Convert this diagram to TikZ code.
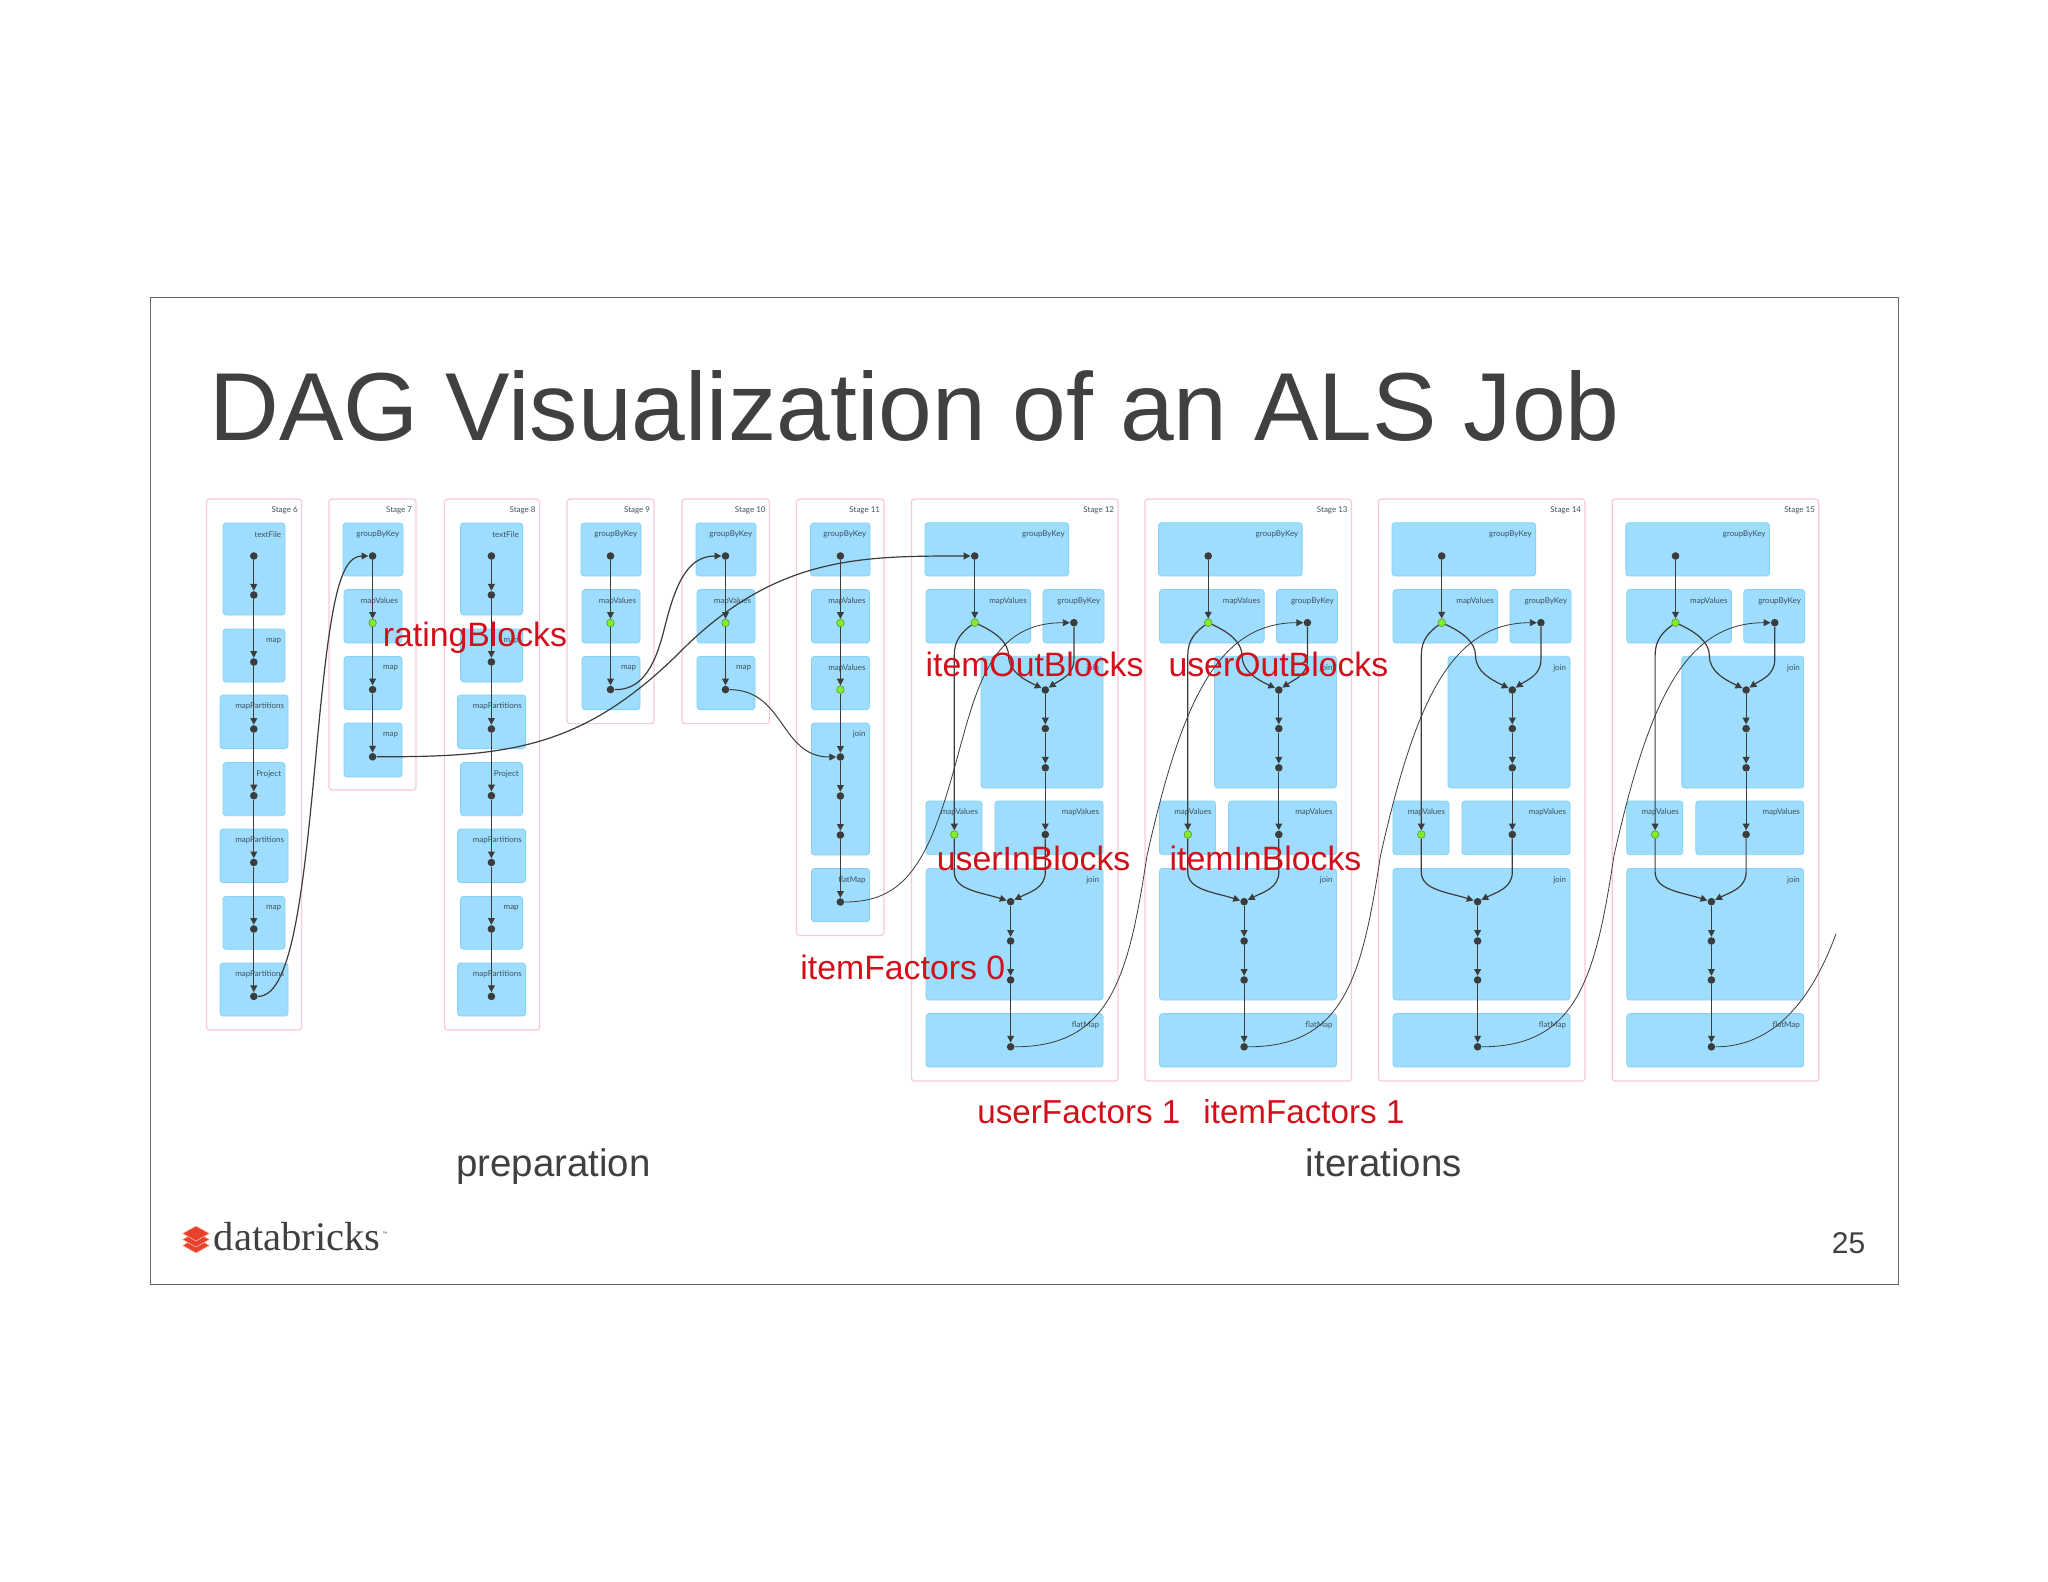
\documentclass[tikz,border=0pt]{standalone}
\usepackage{fontspec}
\setmainfont{Liberation Sans}
\newfontfamily\dagfont{Lato}
\newfontfamily\logofont{Liberation Serif}
\usetikzlibrary{arrows.meta}
\definecolor{blockfill}{HTML}{9EDDFD}
\definecolor{blockedge}{HTML}{86D2F7}
\definecolor{stageedge}{HTML}{FAC9D6}
\definecolor{slidegrey}{HTML}{404040}
\definecolor{redlabel}{HTML}{D2101C}
\definecolor{dotdark}{HTML}{3C3C3C}
\definecolor{dotgreen}{HTML}{80EE2C}
\definecolor{labelink}{HTML}{3E5260}
\definecolor{logored}{HTML}{E8432A}
\tikzset{
  stagebox/.style={draw=stageedge,line width=0.6pt,fill=white,rounded corners=1.5pt},
  blockbox/.style={draw=blockedge,line width=0.4pt,fill=blockfill,rounded corners=1.5pt},
  blocklabel/.style={font=\dagfont\fontsize{4}{4}\selectfont,text=labelink,inner sep=0pt,anchor=east},
  stagelabel/.style={font=\dagfont\fontsize{4}{4}\selectfont,text=labelink,inner sep=0pt,anchor=east},
  ddot/.style={circle,fill=dotdark,draw=none,inner sep=0pt,minimum size=3.8pt},
  gdot/.style={circle,fill=dotgreen,draw=dotdark!50!dotgreen,line width=0.3pt,inner sep=0pt,minimum size=3.8pt},
  link/.style={draw=dotdark,line width=0.6pt,-{Triangle[length=3.4pt,width=3.4pt]}},
  crosslink/.style={link,line width=0.4pt},
  redtext/.style={font=\fontsize{16.9}{17}\selectfont,text=redlabel,inner sep=0pt,anchor=base west},
  redsmall/.style={redtext,font=\fontsize{16.6}{17}\selectfont},
  greytext/.style={font=\fontsize{19.2}{19.2}\selectfont,text=slidegrey,inner sep=0pt,anchor=base west},
}
\newcommand{\stagebk}[6]{\draw[stagebox] (#2,#3) rectangle (#4,#5);
  \node[stagelabel] (#1) at (#4-3.5,510.2) {#6};}
\newcommand{\blk}[6]{\draw[blockbox] (#2,#3) rectangle (#4,#5);
  \node[blocklabel] (#1) at (#4-3.5,#3+11.7) {#6};}
\begin{document}
\begin{tikzpicture}[x=0.5pt,y=-0.5pt]
\useasboundingbox (0,0) rectangle (2048,1582);
\fill[white] (0,0) rectangle (2048,1582);
\draw[draw=black!60,line width=0.4pt] (150,297.5) rectangle (1898,1284);
\node[inner sep=0pt,anchor=base west,text=slidegrey,font=\fontsize{48.3}{50}\selectfont] (title) at (209,440.5) {DAG Visualization of an ALS Job};
% preparation stages
\stagebk{s6}{206.5}{499}{301.6}{1030}{Stage 6}
\stagebk{s7}{329}{499}{416}{790}{Stage 7}
\stagebk{s8}{444.5}{499}{539.5}{1030}{Stage 8}
\stagebk{s9}{567}{499}{654}{723.6}{Stage 9}
\stagebk{s10}{682}{499}{769.5}{723.6}{Stage 10}
\stagebk{s11}{796.5}{499}{884}{935.5}{Stage 11}
% stage 6 and 8 share a layout
\foreach \sx/\n in {0/a,237.6/b}{
\begin{scope}[shift={(\sx,0)}]
\blk{\n l0}{223}{523}{285}{615}{textFile}
\blk{\n l1}{223}{629}{285}{682}{map}
\blk{\n l2}{220}{695}{288}{748.6}{mapPartitions}
\blk{\n l3}{223}{762.5}{285}{815.7}{Project}
\blk{\n l4}{220}{829}{288}{882.5}{mapPartitions}
\blk{\n l5}{223}{896.4}{285}{949.3}{map}
\blk{\n l6}{220}{963}{288}{1016}{mapPartitions}
\node[ddot] (\n0) at (253.8,556) {};
\node[ddot] (\n1) at (253.8,595) {};
\node[ddot] (\n2) at (253.8,662) {};
\node[ddot] (\n3) at (253.8,729) {};
\node[ddot] (\n4) at (253.8,795.7) {};
\node[ddot] (\n5) at (253.8,862.5) {};
\node[ddot] (\n6) at (253.8,929) {};
\node[ddot] (\n7) at (253.8,996.4) {};
\foreach \p/\q in {0/1,1/2,2/3,3/4,4/5,5/6,6/7}{\draw[link] (\n\p) -- (\n\q);}
\end{scope}}
% stage 7
\blk{cl0}{343}{523}{403}{576}{groupByKey}
\blk{cl1}{344}{589.6}{402}{643}{mapValues}
\blk{cl2}{344}{656.4}{402}{709.6}{map}
\blk{cl3}{344}{723}{402}{777}{map}
\node[ddot] (c0) at (372.6,556) {};
\node[gdot] (c1) at (372.6,623) {};
\node[ddot] (c2) at (372.6,689.6) {};
\node[ddot] (c3) at (372.6,756.8) {};
\foreach \p/\q in {c0/c1,c1/c2,c2/c3}{\draw[link] (\p) -- (\q);}
% stage 9 and 10
\foreach \sx/\n in {0/d,115/e}{
\begin{scope}[shift={(\sx,0)}]
\blk{\n l0}{581}{523}{641}{576}{groupByKey}
\blk{\n l1}{582}{589.6}{640}{643}{mapValues}
\blk{\n l2}{582}{656.4}{640}{709.6}{map}
\node[ddot] (\n0) at (610.5,556) {};
\node[gdot] (\n1) at (610.5,623) {};
\node[ddot] (\n2) at (610.5,689.6) {};
\foreach \p/\q in {0/1,1/2}{\draw[link] (\n\p) -- (\n\q);}
\end{scope}}
% stage 11
\blk{fl0}{810.5}{523}{870}{576}{groupByKey}
\blk{fl1}{811.4}{589.6}{869.5}{643}{mapValues}
\blk{fl2}{811.4}{656.4}{869.5}{709.6}{mapValues}
\blk{fl3}{811.4}{723}{869.5}{855}{join}
\blk{fl4}{811.4}{868.6}{869.5}{921.8}{flatMap}
\node[ddot] (f0) at (840.4,556) {};
\node[gdot] (f1) at (840.4,623) {};
\node[gdot] (f2) at (840.4,689.6) {};
\node[ddot] (f3) at (840.4,757) {};
\node[ddot] (f4) at (840.4,796) {};
\node[ddot] (f5) at (840.4,835) {};
\node[ddot] (f6) at (840.4,902) {};
\foreach \p/\q in {0/1,1/2,2/3,3/4,4/5,5/6}{\draw[link] (f\p) -- (f\q);}
% iteration stages
\foreach \i/\sx/\st in {12/0/12,13/233.5/13,14/467/14,15/700.8/15}{
\begin{scope}[shift={(\sx,0)}]
\stagebk{s\st}{911.4}{499}{1118}{1081}{Stage \st}
\blk{i\i l0}{925}{522.7}{1068.6}{576}{groupByKey}
\blk{i\i l1}{926}{589.5}{1030.6}{643}{mapValues}
\blk{i\i l2}{1043}{589.5}{1104}{643}{groupByKey}
\blk{i\i l3}{981}{656.3}{1103}{788}{join}
\blk{i\i l4}{926}{801}{982}{854.7}{mapValues}
\blk{i\i l5}{995}{801}{1103}{854.7}{mapValues}
\blk{i\i l6}{926}{868.5}{1103}{1000}{join}
\blk{i\i l7}{926}{1013.6}{1103}{1067}{flatMap}
\node[ddot] (i\i t) at (974.7,556) {};
\node[gdot] (i\i v) at (974.7,622.7) {};
\node[ddot] (i\i g) at (1073.9,622.7) {};
\node[ddot] (i\i j) at (1045.3,690) {};
\node[ddot] (i\i m) at (1045.3,728.6) {};
\node[ddot] (i\i n) at (1045.3,767.8) {};
\node[gdot] (i\i w) at (954.3,834.5) {};
\node[ddot] (i\i b) at (1045.3,834.5) {};
\node[ddot] (i\i k) at (1010.6,901.7) {};
\node[ddot] (i\i p) at (1010.6,941) {};
\node[ddot] (i\i q) at (1010.6,980) {};
\node[ddot] (i\i f) at (1010.6,1046.8) {};
\draw[link] (i\i t) -- (i\i v);
\draw[link] (i\i v) .. controls (962,632) and (954.3,640) .. (954.3,655) -- (i\i w);
\draw[link] (i\i v) .. controls (995,632) and (1008.6,642) .. (1008.6,656) .. controls (1008.6,672) and (1025,680) .. (i\i j);
\draw[link] (i\i g) -- (1073.9,660) .. controls (1073.9,675) and (1060,680) .. (i\i j);
\draw[link] (i\i j) -- (i\i m);
\draw[link] (i\i m) -- (i\i n);
\draw[link] (i\i n) -- (i\i b);
\draw[link] (i\i w) -- (954.3,872) .. controls (954.3,890) and (980,892) .. (i\i k);
\draw[link] (i\i b) -- (1045.3,872) .. controls (1045.3,888) and (1030,892) .. (i\i k);
\draw[link] (i\i k) -- (i\i p);
\draw[link] (i\i p) -- (i\i q);
\draw[link] (i\i q) -- (i\i f);
\end{scope}}
% cross-stage links
\coordinate (m67) at (315,765.7);
\draw[link] (a7) .. controls (290,996.4) and (302,905) .. (m67) .. controls (329,610) and (338,556) .. (c0);
\coordinate (m7t) at (681,651);
\draw[link] (c3) .. controls (506,756.8) and (582,750) .. (m7t) .. controls (776,556) and (860,556) .. (i12t);
\coordinate (m9) at (664,630);
\draw[link] (d2) .. controls (640,690) and (654,670) .. (m9) .. controls (674,590) and (685,556) .. (e0);
\draw[link,line width=0.5pt] (e2) .. controls (785,690) and (780,757) .. (f3);
\coordinate (m11) at (951,780);
\draw[crosslink] (f6) .. controls (900,902) and (925,870) .. (m11) .. controls (975,697) and (985,622.7) .. (i12g);
\foreach \i/\j/\sx in {12/13/0,13/14/233.5,14/15/467}{
\begin{scope}[shift={(\sx,0)}]
\coordinate (mid\i) at (1147,855.5);
\draw[crosslink] (i\i f) .. controls (1110.6,1046.8) and (1128.6,976.8) .. (mid\i) .. controls (1180.6,706.8) and (1215.6,622.7) .. (i\j g);
\end{scope}}
\coordinate (freeend) at (1836,933.8);
\draw[draw=dotdark,line width=0.4pt] (i15f) .. controls (1781.5,1046.8) and (1816.5,986.8) .. (freeend);
% red annotations
\node[redtext] (r1) at (382.5,646.4) {ratingBlocks};
\node[redtext] (r2) at (925.2,676.6) {itemOutBlocks};
\node[redtext] (r3) at (1168.1,676.6) {userOutBlocks};
\node[redtext] (r4) at (936.5,870.5) {userInBlocks};
\node[redtext] (r5) at (1169.3,870.5) {itemInBlocks};
\node[redtext] (r6) at (800,979.8) {itemFactors 0};
\node[redsmall] (r7) at (977,1123) {userFactors 1};
\node[redsmall] (r8) at (1203,1123) {itemFactors 1};
% captions
\node[greytext] (c1t) at (456,1176) {preparation};
\node[greytext] (c2t) at (1305.5,1176) {iterations};
\node[inner sep=0pt,anchor=base west,text=slidegrey,font=\fontsize{15}{15}\selectfont] (pg) at (1831.5,1253) {25};
\node[inner sep=0pt,anchor=base west,text=slidegrey,font=\logofont\fontsize{20.3}{20}\selectfont] (db) at (213.5,1250.5) {databricks};
\node[inner sep=0pt,anchor=base west,text=slidegrey,font=\fontsize{2.5}{3}\selectfont] (tm) at (382,1235) {™};
% logo
\foreach \cy in {1245.5,1239.5,1233.5}{
  \filldraw[fill=logored,draw=white!70!logored,line width=0.25pt] (196,\cy-7.5) -- (209.5,\cy) -- (196,\cy+7.5) -- (182.5,\cy) -- cycle;}
\end{tikzpicture}
\end{document}
